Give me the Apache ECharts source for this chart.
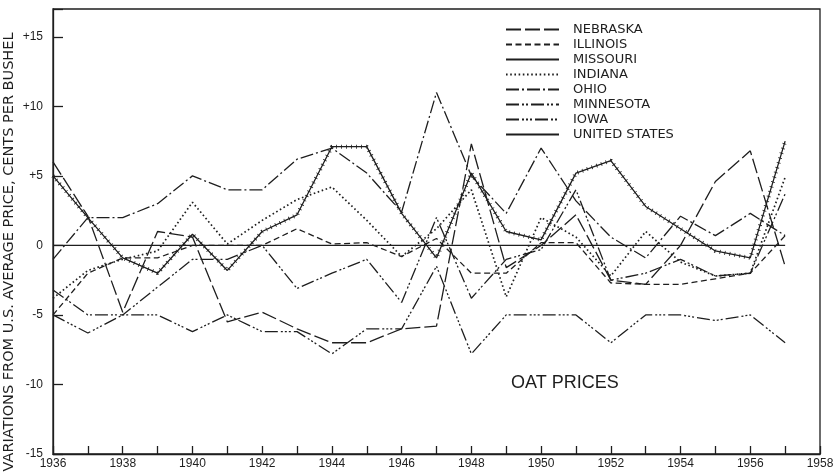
<!DOCTYPE html>
<html>
<head>
<meta charset="utf-8">
<script src="https://cdn.jsdelivr.net/npm/echarts@6/dist/echarts.min.js"></script>
<style>
html, body { margin: 0; padding: 0; background: #fff; }
#chart { width: 833px; height: 476px; }
</style>
</head>
<body>
<div id="chart"></div>
<script>
var years = [1936, 1937, 1938, 1939, 1940, 1941, 1942, 1943, 1944, 1945, 1946,
             1947, 1948, 1949, 1950, 1951, 1952, 1953, 1954, 1955, 1956, 1957];
// cents per bushel, difference from the U.S. average
var nebraska  = [6.0, 2.1, -4.8, 1.0, 0.6, -5.5, -4.8, -6.0, -7.0, -7.0, -6.0, -5.8, 7.3, -1.6, 0.0, 2.2, -2.5, -2.8, 0.0, 4.6, 6.8, -1.5];
var illinois  = [-5.0, -2.0, -0.9, -0.9, 0.0, 0.0, 0.0, 1.2, 0.1, 0.2, -0.8, 0.5, -2.0, -2.0, 0.2, 0.2, -2.7, -2.8, -2.8, -2.4, -2.0, 0.7];
var missouri  = [5.0, 2.0, -0.9, -2.0, 0.8, -1.8, 1.0, 2.2, 7.1, 7.1, 2.3, -0.9, 5.2, 1.0, 0.4, 5.2, 6.1, 2.8, 1.2, -0.4, -0.9, 7.5];
var indiana   = [-3.8, -1.8, -1.0, -0.4, 3.1, 0.1, 1.8, 3.3, 4.2, 1.8, -0.8, 1.2, 4.0, -3.7, 2.0, 0.6, -2.2, 1.0, -1.2, -2.2, -2.0, 4.9];
var ohio      = [-1.0, 2.0, 2.0, 3.0, 5.0, 4.0, 4.0, 6.2, 7.0, 5.2, 2.4, 11.0, 5.0, 2.3, 7.0, 3.2, 0.6, -0.9, 2.1, 0.7, 2.3, 0.7];
var minnesota = [-3.2, -5.0, -5.0, -3.0, -1.0, -1.0, 0.0, -3.1, -2.0, -1.0, -4.1, 2.0, -3.8, -1.0, -0.3, 4.0, -2.5, -2.0, -1.0, -2.2, -2.0, 3.7];
var iowa      = [-5.0, -6.3, -5.0, -5.0, -6.2, -5.0, -6.2, -6.2, -7.8, -6.0, -6.0, -1.5, -7.8, -5.0, -5.0, -5.0, -7.0, -5.0, -5.0, -5.4, -5.0, -7.0];
var unitedStates = [0, 0, 0, 0, 0, 0, 0, 0, 0, 0, 0, 0, 0, 0, 0, 0, 0, 0, 0, 0, 0, 0];

var ink = '#1e1e1e';
var chart = echarts.init(document.getElementById('chart'));

function pairs(vals) {
	return years.map(function (y, i) { return [y, vals[i]]; });
}
function stateLine(name, vals, dash, width) {
	return {
		name: name,
		type: 'line',
		data: pairs(vals),
		symbol: 'none',
		silent: true,
		itemStyle: { color: ink },
		lineStyle: { color: ink, width: width || 1.3, type: dash }
	};
}

var series = [
	stateLine('NEBRASKA', nebraska, [15, 4]),
	stateLine('ILLINOIS', illinois, [6, 3.5]),
	stateLine('MISSOURI', missouri, 'solid'),
	stateLine('INDIANA', indiana, [1.6, 2.6], 1.7),
	stateLine('OHIO', ohio, [13, 3, 2, 3]),
	stateLine('MINNESOTA', minnesota, [13, 3, 2, 2, 2, 3]),
	stateLine('IOWA', iowa, [13, 3, 2, 2, 2, 2, 2, 3]),
	stateLine('UNITED STATES', unitedStates, 'solid', 1.4)
];
/*small cross marks along the Missouri line*/
series.push(stateLine('MISSOURI', missouri, [0.8, 4.2], 4));

var option = {
	animation: false,
	textStyle: { fontFamily: 'DejaVu Sans', color: ink },
	grid: {
		left: 53, right: 13, top: 9, bottom: 22,
		containLabel: false, outerBoundsMode: 'none',
		show: true, borderColor: ink, borderWidth: 1.3
	},
	title: {
		text: 'OAT PRICES',
		left: 506, top: 369,
		textStyle: { fontFamily: 'Liberation Sans', fontSize: 18, fontWeight: 'normal', color: ink }
	},
	/*y axis caption, read bottom to top*/
	graphic: [{
		type: 'text',
		x: 9, y: 252,
		rotation: Math.PI / 2,
		silent: true,
		style: {
			text: 'VARIATIONS FROM U.S. AVERAGE PRICE, CENTS PER BUSHEL',
			fill: ink,
			font: '14.5px "DejaVu Sans"',
			textAlign: 'center',
			textVerticalAlign: 'middle'
		}
	}],
	legend: {
		orient: 'vertical',
		left: 500, top: 18,
		itemWidth: 53, itemHeight: 12, itemGap: 2,
		itemStyle: { opacity: 0 },
		data: ['NEBRASKA', 'ILLINOIS', 'MISSOURI', 'INDIANA', 'OHIO', 'MINNESOTA', 'IOWA', 'UNITED STATES'],
		textStyle: { fontFamily: 'DejaVu Sans', fontSize: 13, color: ink, padding: [0, 0, 0, 9] },
		selectedMode: false
	},
	xAxis: {
		type: 'value',
		min: 1936, max: 1958, interval: 1,
		axisLine: { onZero: false, lineStyle: { color: ink, width: 1.3 } },
		axisTick: { inside: true, length: 8, lineStyle: { color: ink, width: 1.3 } },
		axisLabel: {
			margin: 4, fontFamily: 'Liberation Sans', fontSize: 12, color: ink,
			formatter: function (v) { return v % 2 === 0 ? String(v) : ''; }
		},
		splitLine: { show: false }
	},
	yAxis: {
		type: 'value',
		min: -15, max: 17, interval: 5,
		axisLine: { lineStyle: { color: ink, width: 1.3 } },
		axisTick: { inside: true, length: 10, lineStyle: { color: ink, width: 1.3 } },
		axisLabel: {
			margin: 10, fontFamily: 'Liberation Sans', fontSize: 12, color: ink,
			formatter: function (v) {
				if (v > 15) return '';
				return v > 0 ? '+' + v : String(v);
			}
		},
		splitLine: { show: false }
	},
	series: series
};
chart.setOption(option);
</script>
</body>
</html>
